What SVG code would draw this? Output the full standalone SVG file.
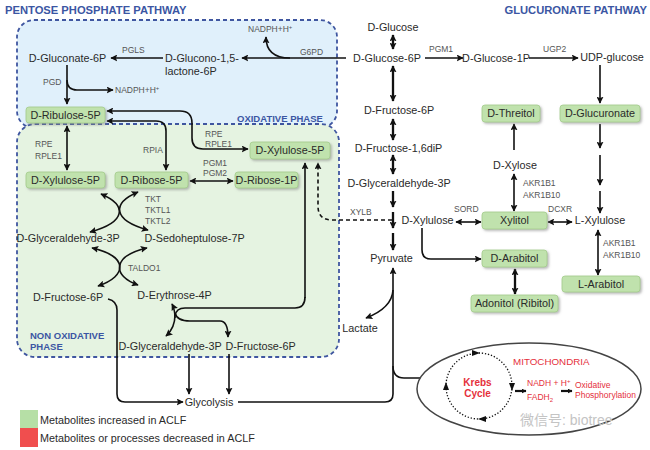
<svg xmlns="http://www.w3.org/2000/svg" width="650" height="450" viewBox="0 0 650 450">
<defs>
<marker id="ah" viewBox="0 0 10 10" refX="9" refY="5" markerWidth="7" markerHeight="7" markerUnits="userSpaceOnUse" orient="auto-start-reverse"><path d="M0,0 L10,5 L0,10 L2,5 Z" fill="#111"/></marker>
<marker id="ahs" viewBox="0 0 10 10" refX="9" refY="5" markerWidth="5" markerHeight="5" markerUnits="userSpaceOnUse" orient="auto"><path d="M0,0 L10,5 L0,10 Z" fill="#111"/></marker>
<filter id="sh" x="-10%" y="-20%" width="130%" height="160%"><feDropShadow dx="1.5" dy="1.5" stdDeviation="1" flood-color="#888" flood-opacity="0.6"/></filter>
</defs>
<style>
text{font-family:"Liberation Sans",Arial,sans-serif}
.t{font-size:10.8px;fill:#2a2a2a}
.tc{font-size:10.8px;fill:#2a2a2a;text-anchor:middle}
.e{font-size:8.5px;fill:#555}
.title{font-size:11.2px;font-weight:bold;fill:#3b56a3}
.ph{font-size:9.5px;font-weight:bold;fill:#3b56a3}
.nb rect{fill:#c0e2ad;stroke:#a3cc8c;stroke-width:0.8;filter:url(#sh)}
.c path,.c line{fill:none;stroke:#111;stroke-width:1.6}
.b{stroke-width:2.3!important}
.red{fill:#e5303c}
.region{stroke:#3f56a0;stroke-width:1.8;stroke-dasharray:4 3}
</style>
<rect width="650" height="450" fill="#fff"/>
<!-- regions -->
<rect class="region" x="17" y="20" width="320" height="108" rx="17" fill="#e0f0fb"/>
<rect class="region" x="17" y="124" width="322" height="233" rx="18" fill="#e5f3e1"/>
<text class="title" x="5" y="14">PENTOSE PHOSPHATE PATHWAY</text>
<text class="title" x="647" y="14" text-anchor="end">GLUCURONATE PATHWAY</text>
<text class="ph" x="237" y="121.5">OXIDATIVE PHASE</text>
<text class="ph" x="30" y="338.5">NON OXIDATIVE</text>
<text class="ph" x="30" y="349.5">PHASE</text>

<!-- connectors -->
<g id="connectors" class="c">
<path d="M346,58 H242" marker-end="url(#ah)"/>
<path d="M290,58 C275,58 266,52 266,37" marker-end="url(#ah)"/>
<path d="M163,58 H111" marker-end="url(#ah)"/>
<path d="M67,65 V104" marker-end="url(#ah)"/>
<path d="M67,80 Q67,90 77,90 H113" marker-end="url(#ah)"/>
<path d="M107,111 H180 Q192,111 192,123 V138 Q192,149 203,149 H248" marker-start="url(#ah)" marker-end="url(#ah)"/>
<path d="M107,121 H156 Q166,121 166,131 V170" marker-start="url(#ah)" marker-end="url(#ah)"/>
<path d="M67,126 V170" marker-start="url(#ah)" marker-end="url(#ah)"/>
<path d="M190,181 H233" marker-start="url(#ah)" marker-end="url(#ah)"/>
<path d="M101,194 C127,205 127,222 90,232" marker-start="url(#ah)" marker-end="url(#ah)"/>
<path d="M138,192 C112,203 112,220 148,230" marker-start="url(#ah)" marker-end="url(#ah)"/>
<path d="M92,248 C128,256 128,276 98,286" marker-start="url(#ah)" marker-end="url(#ah)"/>
<path d="M147,248 C112,256 112,276 138,285" marker-start="url(#ah)" marker-end="url(#ah)"/>
<path d="M108,299 Q117,301 117,310 V394 Q117,402 125,402 H183" marker-end="url(#ah)"/>
<path d="M189,354 V394" marker-end="url(#ah)"/>
<path d="M229,354 V394" marker-end="url(#ah)"/>
<path d="M305,298 V163" marker-end="url(#ah)"/>
<path d="M305,297 Q305,308 295,308 H185 Q176,308 175,316"/>
<path d="M175,318 Q175,310 172,304" marker-end="url(#ah)"/>
<path d="M175,315 Q175,328 166,336" marker-end="url(#ah)"/>
<path d="M175,313 Q177,321 190,321 H220 Q228,321 228,337" marker-end="url(#ah)"/>
<path d="M392,220 H332 Q318,220 318,206 V163" stroke-dasharray="4 3" marker-end="url(#ah)"/>
<path class="b" d="M393,35 V49" marker-start="url(#ah)" marker-end="url(#ah)"/>
<path class="b" d="M393,66 V101" marker-start="url(#ah)" marker-end="url(#ah)"/>
<path class="b" d="M393,119 V140" marker-start="url(#ah)" marker-end="url(#ah)"/>
<path class="b" d="M393,155 V174" marker-start="url(#ah)" marker-end="url(#ah)"/>
<path class="b" d="M393,191 V207" marker-end="url(#ah)"/>
<path class="b" d="M393,212 V228" marker-end="url(#ah)"/>
<path class="b" d="M393,233 V250" marker-end="url(#ah)"/>
<path d="M238,402 H385 Q393,402 393,394 V268" marker-end="url(#ah)"/>
<path d="M393,366 Q393,378 404,378 H432" marker-end="url(#ah)"/>
<path d="M393,290 Q392,308 366,318" marker-end="url(#ah)"/>
<path d="M425,58 H463" marker-end="url(#ah)"/>
<path d="M529,58 H578" marker-end="url(#ah)"/>
<path d="M600,65 V103" marker-end="url(#ah)"/>
<path d="M600,124 V148" marker-end="url(#ah)"/>
<path d="M600,155 V185" marker-end="url(#ah)"/>
<path d="M600,191 V213" marker-end="url(#ah)"/>
<path d="M514,150 V124" marker-end="url(#ah)"/>
<path d="M514,174 V211" marker-start="url(#ah)" marker-end="url(#ah)"/>
<path d="M456,222 H481" marker-start="url(#ah)" marker-end="url(#ah)"/>
<path d="M548,222 H572" marker-start="url(#ah)" marker-end="url(#ah)"/>
<path d="M598,230 V275" marker-start="url(#ah)" marker-end="url(#ah)"/>
<path d="M422,228 V250 Q422,259 431,259 H481" marker-end="url(#ah)"/>
<path class="b" d="M515,269 V294" marker-start="url(#ah)" marker-end="url(#ah)"/>
</g>

<!-- plain nodes -->
<g id="n-gluconate"><text class="tc" x="67.5" y="62">D-Gluconate-6P</text></g>
<g id="n-glucono"><text class="t" x="165" y="62">D-Glucono-1,5-</text><text class="t" x="165" y="75">lactone-6P</text></g>
<g id="n-nadph1"><text class="e" x="248" y="32">NADPH+H<tspan font-size="6" dy="-3">+</tspan></text></g>
<g id="n-nadph2"><text class="e" x="115" y="93">NADPH+H<tspan font-size="6" dy="-3">+</tspan></text></g>
<g id="n-glucose"><text class="tc" x="393" y="31">D-Glucose</text></g>
<g id="n-g6p"><text class="tc" x="387" y="62">D-Glucose-6P</text></g>
<g id="n-g1p"><text class="tc" x="496" y="62">D-Glucose-1P</text></g>
<g id="n-udp"><text class="tc" x="612" y="61">UDP-glucose</text></g>
<g id="n-f6p"><text class="tc" x="399" y="114">D-Fructose-6P</text></g>
<g id="n-f16"><text class="tc" x="398.5" y="152">D-Fructose-1,6diP</text></g>
<g id="n-g3p"><text class="tc" x="399" y="187">D-Glyceraldehyde-3P</text></g>
<g id="n-dxylulose"><text class="tc" x="427.5" y="224">D-Xylulose</text></g>
<g id="n-pyruvate"><text class="tc" x="391.5" y="262">Pyruvate</text></g>
<g id="n-lactate"><text class="tc" x="360" y="332">Lactate</text></g>
<g id="n-dxylose"><text class="tc" x="515" y="169">D-Xylose</text></g>
<g id="n-lxylulose"><text class="tc" x="600" y="224">L-Xylulose</text></g>
<g id="n-g3p-l"><text class="tc" x="68" y="242">D-Glyceraldehyde-3P</text></g>
<g id="n-s7p"><text class="tc" x="194.5" y="242">D-Sedoheptulose-7P</text></g>
<g id="n-f6p-l"><text class="tc" x="68" y="301">D-Fructose-6P</text></g>
<g id="n-e4p"><text class="tc" x="174.5" y="299">D-Erythrose-4P</text></g>
<g id="n-g3p-b"><text class="tc" x="170" y="350">D-Glyceraldehyde-3P</text></g>
<g id="n-f6p-b"><text class="tc" x="260.5" y="350">D-Fructose-6P</text></g>
<g id="n-glycolysis"><text class="tc" x="209" y="406">Glycolysis</text></g>

<!-- enzyme labels -->
<g id="enzymes">
<text class="e" x="300" y="55">G6PD</text>
<text class="e" x="122" y="53">PGLS</text>
<text class="e" x="43" y="85">PGD</text>
<text class="e" x="35" y="147">RPE</text><text class="e" x="35" y="159">RPLE1</text>
<text class="e" x="143" y="153">RPIA</text>
<text class="e" x="205" y="137">RPE</text><text class="e" x="205" y="147">RPLE1</text>
<text class="e" x="203" y="166">PGM1</text><text class="e" x="203" y="176">PGM2</text>
<text class="e" x="145" y="202">TKT</text><text class="e" x="145" y="213">TKTL1</text><text class="e" x="145" y="224">TKTL2</text>
<text class="e" x="128" y="271">TALDO1</text>
<text class="e" x="350" y="215">XYLB</text>
<text class="e" x="429" y="52">PGM1</text>
<text class="e" x="543" y="52">UGP2</text>
<text class="e" x="454" y="212">SORD</text>
<text class="e" x="548" y="212">DCXR</text>
<text class="e" x="523" y="186">AKR1B1</text><text class="e" x="523" y="198">AKR1B10</text>
<text class="e" x="603" y="246">AKR1B1</text><text class="e" x="603" y="258">AKR1B10</text>
</g>

<!-- green nodes -->
<g class="nb">
<g id="n-ribulose5p"><rect x="26" y="107" width="79" height="16" rx="3"/><text class="tc" x="65.5" y="118.8">D-Ribulose-5P</text></g>
<g id="n-xylulose5p-r"><rect x="250" y="142" width="80" height="17" rx="3"/><text class="tc" x="290" y="154.3">D-Xylulose-5P</text></g>
<g id="n-xylulose5p-l"><rect x="26" y="172" width="79" height="16" rx="3"/><text class="tc" x="65.5" y="183.8">D-Xylulose-5P</text></g>
<g id="n-ribose5p"><rect x="115" y="172" width="73" height="16" rx="3"/><text class="tc" x="151.5" y="183.8">D-Ribose-5P</text></g>
<g id="n-ribose1p"><rect x="235" y="172" width="63" height="16" rx="3"/><text class="tc" x="266.5" y="183.8">D-Ribose-1P</text></g>
<g id="n-threitol"><rect x="482" y="105" width="58" height="17" rx="3"/><text class="tc" x="511" y="117.3">D-Threitol</text></g>
<g id="n-glucuronate"><rect x="560" y="105" width="80" height="17" rx="3"/><text class="tc" x="600" y="117.3">D-Glucuronate</text></g>
<g id="n-xylitol"><rect x="482" y="212" width="65" height="17" rx="3"/><text class="tc" x="514.5" y="224.3">Xylitol</text></g>
<g id="n-darabitol"><rect x="482" y="250" width="65" height="17" rx="3"/><text class="tc" x="514.5" y="262.3">D-Arabitol</text></g>
<g id="n-larabitol"><rect x="562" y="276" width="78" height="16" rx="3"/><text class="tc" x="601" y="287.8">L-Arabitol</text></g>
<g id="n-adonitol"><rect x="471" y="295" width="87" height="17" rx="3"/><text class="tc" x="514.5" y="307.3">Adonitol (Ribitol)</text></g>
</g>

<!-- mitochondria -->
<g id="n-mitochondria">
<ellipse cx="529" cy="389" rx="112" ry="46" fill="#fff" stroke="#444" stroke-width="1.5"/>
<circle cx="479" cy="386" r="33" fill="none" stroke="#111" stroke-width="1.3" stroke-dasharray="1.3 1.8"/>
<path d="M472,350 L480,353 L472,356 Z" fill="#111"/>
<path d="M509,383 L512,391 L515,383 Z" fill="#111"/>
<path d="M486,416 L478,419 L486,422 Z" fill="#111"/>
<path d="M443,390 L446,382 L449,390 Z" fill="#111"/>
<text class="red" x="513" y="364.5" font-size="9.8">MITOCHONDRIA</text>
<text class="red" x="477.5" y="385.5" font-size="10" font-weight="bold" text-anchor="middle">Krebs</text>
<text class="red" x="477.5" y="397" font-size="10" font-weight="bold" text-anchor="middle">Cycle</text>
<path d="M515,391 H526" stroke="#111" stroke-width="2.2" marker-end="url(#ahs)"/>
<text class="red" x="527" y="386" font-size="8.5">NADH + H<tspan font-size="6" dy="-3">+</tspan></text>
<text class="red" x="527" y="400" font-size="8.5">FADH<tspan font-size="6" dy="2">2</tspan></text>
<path d="M561,391 H572" stroke="#111" stroke-width="2.2" marker-end="url(#ahs)"/>
<text class="red" x="575" y="388" font-size="8.5">Oxidative</text>
<text class="red" x="575" y="398" font-size="8.5">Phosphorylation</text>
</g>

<text x="520" y="425" font-size="14" fill="#c4c4c4" style="font-family:'Liberation Sans','Noto Sans CJK SC',sans-serif">微信号: biotree</text>

<!-- legend -->
<g id="legend">
<rect x="20" y="410" width="18" height="18" fill="#b6dfa6"/>
<rect x="20" y="428" width="18" height="19" fill="#f04e4e"/>
<text class="t" x="40" y="424">Metabolites increased in ACLF</text>
<text class="t" x="40" y="442">Metabolites or processes decreased in ACLF</text>
</g>
</svg>
